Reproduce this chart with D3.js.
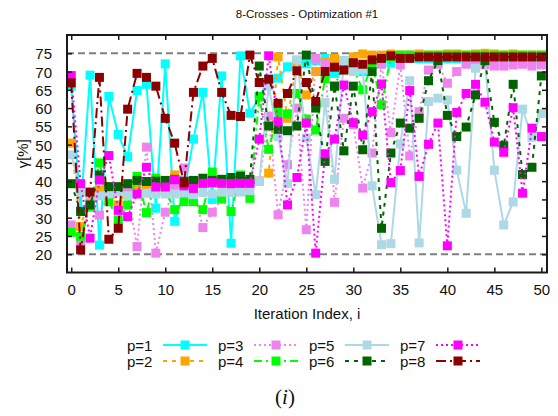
<!DOCTYPE html>
<html><head><meta charset="utf-8">
<script src="https://cdn.jsdelivr.net/npm/d3@7/dist/d3.min.js"></script>
<style>html,body{margin:0;padding:0;background:#fff;}svg{display:block;}</style>
</head><body>
<svg id="chart" width="558" height="416"></svg>
<script>
const titleText = "8-Crosses - Optimization #1";
const xLabelText = "Iteration Index, i";
const yLabelText = "γ[%]";
const xTicks = [0,5,10,15,20,25,30,35,40,45,50];
const yTicks = [20,25,30,35,40,45,50,55,60,65,70,75];
const refLines = [20,75];
const seriesNames = ["p=1","p=2","p=3","p=4","p=5","p=6","p=7","p=8"];
const seriesColors = ["#00ffff","#ffa500","#ee82ee","#00ff00","#add8e6","#006400","#ff00ff","#8b0000"];
const seriesDash = [null,"4,5","2,3","8,4,2,4",null,"4,5","2,3","10,4,2,4"];

const p1 = [66,32,69,22.5,63.2,52.8,46.7,64.8,66.5,32.6,72.1,29,37,51.5,64.3,35,68.8,23,74.3,58.6,63,67.9,68.2,71.3,73,72.1,73,73.6,69.5,73,73,70,73,74,72.3,73.5,74,73.5,73.5,72.5,73.5,73.5,72.5,73.5,73.5,73.5,73.5,73.5,73.5,72.5,73.5];
const p2 = [50.4,27.6,36,37.5,38,33.5,38,38,38.5,38.5,38.5,41.7,39,39,39.5,39.5,39.5,39.5,39.5,39.5,40,42.2,74,57.2,72.4,63.6,70,72.5,73.6,72.3,74,74.8,74.5,74.5,74.8,74.5,74.5,74.8,74.5,74.5,74.8,74.8,74.5,74.8,75,74.8,74.5,74.8,74.5,74.5,74.5];
const p3 = [28,23.5,34,30.7,37,38,37,22.1,49.3,20.3,31.5,38,43.6,38,27.3,31.5,35,38,39,39,40,57.8,30.8,44.5,60,26.7,73.6,72,34.2,57.2,55.4,38.1,47.7,72,53.3,71.8,46.9,59,70.4,72,66.8,70,72,71.5,71.8,71.5,71.5,71.8,72,71.5,71.8];
const p4 = [26,24.9,33,45,34.4,29.4,33.5,41.3,31.4,40.8,37.2,32.2,34.4,34.4,32.2,42.5,35.3,31.7,41.7,35.3,63.2,48.7,58.8,58.4,64,57,54,68,66,72,70.9,65,72,60.9,74,74.5,74.5,74.3,74.5,74.5,74.5,74.5,74.5,74.5,74.5,74.5,74.5,74.5,74.5,74.5,74.5];
const p5 = [47.2,37,36.5,36,36.5,37,36,36.5,36.7,36.5,36.5,36.5,36.8,36.3,36.9,36.5,37,36.9,37,37.4,39.9,66,52.2,39.3,73.2,51.8,36.3,61.5,40.5,73,70,70.6,38.7,22.6,22.9,50.2,67.5,23.1,61.8,62.7,62.2,43,31.2,70.9,73,43,28,34.3,59.7,52,58.5];
const p6 = [39.3,31.7,33.5,41.7,38.5,38.5,39.3,40.2,39.9,40,40.2,40.5,40,40.2,40.8,40.2,40.5,41,41.3,40.5,71.5,55.1,54.2,53.8,55.1,74.5,60,45.4,66,48.3,66,48.6,70,27.1,47.7,55.9,54.5,57.2,67.5,73,58,52.2,54.8,63.6,73,56.1,49.7,66.5,41.8,43.8,68.8];
const p7 = [68.9,39.3,24.4,40.3,47,32,30.3,36.5,43.8,38.4,38.4,40.4,38.7,38,39.4,39.6,39.4,39.3,39.4,39.4,51.5,74.3,56.3,33.5,41,55.9,20.3,47.5,51.5,66.3,56,52.6,59,66.6,39.6,42.9,64.8,41.3,50.1,55.9,22.3,58.8,64,66.5,61.6,50.7,47.9,60.1,36.7,54.5,52.2];
const p8 = [66.9,21.2,37,68.4,24.1,27.1,59.7,69.5,68.4,66,57.2,50.4,39.5,64.3,71.5,73.6,64.3,58,57.7,74.5,67,67.9,61.3,64,70.2,67,61.8,70,71.2,70.4,72.4,72,73.2,73.6,74.3,73.6,73.6,74,74,74,74,74,74,74,74,74,74,74,74,74,74];
const seriesValues = [p1,p2,p3,p4,p5,p6,p7,p8];

const svg = d3.select("#chart");
const font = "'Liberation Sans', Arial, sans-serif";
const L = 67, R = 547, T = 35, B = 272.5;
const x = d3.scaleLinear().domain([-0.45, 50.6]).range([L, R]);
const y = d3.scaleLinear().domain([15, 80]).range([B, T]);

// reference dashed lines
svg.selectAll("line.ref").data(refLines).enter().append("line")
  .attr("x1", L).attr("x2", R).attr("y1", d => y(d)).attr("y2", d => y(d))
  .attr("stroke", "#808080").attr("stroke-width", 2).attr("stroke-dasharray", "7,4");

// series
const clip = svg.append("clipPath").attr("id","clip").append("rect")
  .attr("x", L).attr("y", T - 6).attr("width", R - L).attr("height", B - T + 12);
const plot = svg.append("g");
const line = d3.line().x((d,i) => x(i)).y(d => y(d));
const ms = 9;
seriesValues.forEach((vals, k) => {
  const g = plot.append("g");
  g.append("path").datum(vals).attr("d", line)
    .attr("fill", "none").attr("stroke", seriesColors[k]).attr("stroke-width", 2)
    .attr("stroke-dasharray", seriesDash[k]);
  g.selectAll("rect").data(vals).enter().append("rect")
    .attr("x", (d,i) => x(i) - ms/2).attr("y", d => y(d) - ms/2)
    .attr("width", ms).attr("height", ms).attr("fill", seriesColors[k]);
});

// frame
svg.append("rect").attr("x", L).attr("y", T).attr("width", R - L).attr("height", B - T)
  .attr("fill", "none").attr("stroke", "#1a1a1a").attr("stroke-width", 2);

// axes (inward ticks, mirrored)
const xAxisB = d3.axisBottom(x).tickValues(xTicks).tickSizeInner(-5).tickSizeOuter(0).tickPadding(12);
const gxb = svg.append("g").attr("transform", `translate(0,${B})`).call(xAxisB);
const xAxisT = d3.axisTop(x).tickValues(xTicks).tickSizeInner(-5).tickSizeOuter(0).tickFormat("");
const gxt = svg.append("g").attr("transform", `translate(0,${T})`).call(xAxisT);
const yAxisL = d3.axisLeft(y).tickValues(yTicks).tickSizeInner(-5).tickSizeOuter(0).tickPadding(15);
const gyl = svg.append("g").attr("transform", `translate(${L},0)`).call(yAxisL);
const yAxisR = d3.axisRight(y).tickValues(yTicks).tickSizeInner(-5).tickSizeOuter(0).tickFormat("");
const gyr = svg.append("g").attr("transform", `translate(${R},0)`).call(yAxisR);
[gxb,gxt,gyl,gyr].forEach(g => {
  g.select(".domain").remove();
  g.selectAll(".tick line").attr("stroke", "#1a1a1a").attr("stroke-width", 1.5);
  g.selectAll(".tick text").attr("font-family", font).attr("font-size", 15).attr("fill", "#111");
});
gxb.selectAll(".tick text").attr("dy", null).attr("y", 17).attr("dominant-baseline", "central");
gyl.selectAll(".tick text").attr("dy", null).attr("dominant-baseline", "central");

// title and labels
svg.append("text").attr("x", 307).attr("y", 14).attr("text-anchor", "middle")
  .attr("dominant-baseline", "central").attr("font-family", font).attr("font-size", 11.5)
  .attr("fill", "#111").text(titleText);
svg.append("text").attr("x", 307).attr("y", 313).attr("text-anchor", "middle")
  .attr("dominant-baseline", "central").attr("font-family", font).attr("font-size", 15)
  .attr("fill", "#111").text(xLabelText);
svg.append("text").attr("transform", `translate(22,${(T+B)/2}) rotate(-90)`).attr("text-anchor", "middle")
  .attr("dominant-baseline", "central").attr("font-family", font).attr("font-size", 15)
  .attr("fill", "#111").text(yLabelText);

// legend
const legX = [127, 218, 309, 400];
const legY = [345, 361];
seriesNames.forEach((name, k) => {
  const col = Math.floor(k / 2), row = k % 2;
  const tx = legX[col], ty = legY[row];
  const g = svg.append("g");
  g.append("text").attr("x", tx).attr("y", ty).attr("dominant-baseline", "central")
    .attr("font-family", font).attr("font-size", 15).attr("fill", "#111").text(name);
  g.append("line").attr("x1", tx + 36).attr("x2", tx + 80).attr("y1", ty).attr("y2", ty)
    .attr("stroke", seriesColors[k]).attr("stroke-width", 2).attr("stroke-dasharray", seriesDash[k]);
  g.append("rect").attr("x", tx + 58 - ms/2).attr("y", ty - ms/2).attr("width", ms).attr("height", ms)
    .attr("fill", seriesColors[k]);
});

// subfigure caption
const cap = svg.append("text").attr("x", 285).attr("y", 397).attr("text-anchor", "middle")
  .attr("dominant-baseline", "central").attr("font-family", "'Liberation Serif', 'DejaVu Serif', serif")
  .attr("font-size", 21).attr("fill", "#111");
cap.append("tspan").text("(");
cap.append("tspan").attr("font-style", "italic").text("i");
cap.append("tspan").text(")");
</script>
</body></html>
